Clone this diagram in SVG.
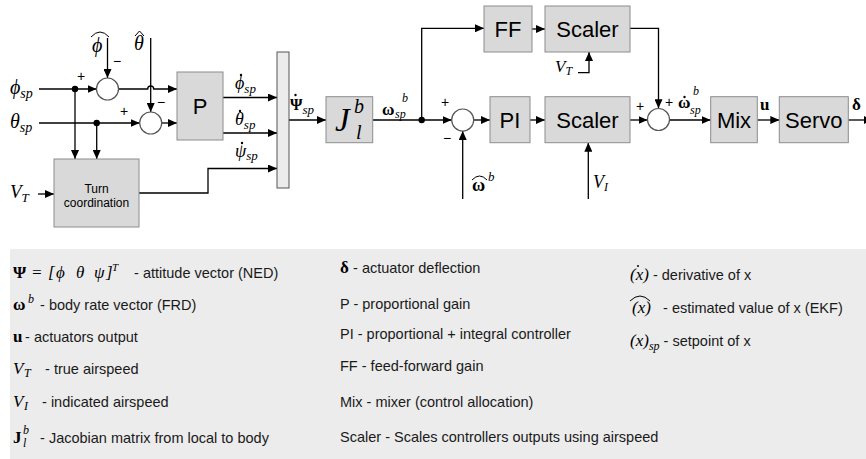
<svg xmlns="http://www.w3.org/2000/svg" width="866" height="459" viewBox="0 0 866 459">
<defs>
<marker id="ah" markerUnits="userSpaceOnUse" markerWidth="9" markerHeight="8" refX="9" refY="4" orient="auto">
<path d="M0,0 L9,4 L0,8 z" fill="#000"/>
</marker>
<style>
.blk{fill:#d9d9d9;stroke:#8c8c8c;stroke-width:1}
.mux{fill:#ececec;stroke:#555;stroke-width:1}
.sum{fill:#fff;stroke:#555;stroke-width:1.2}
.ln{fill:none;stroke:#000;stroke-width:1.3}
.arr{marker-end:url(#ah)}
.dot{fill:#000}
.hat{fill:none;stroke:#000;stroke-width:1}
.bl{font-family:"Liberation Sans",Arial,sans-serif;font-size:22px;text-anchor:middle;fill:#000}
.sm{font-family:"Liberation Sans",Arial,sans-serif;font-size:12px;text-anchor:middle;fill:#000}
.sg{font-family:"Liberation Sans",Arial,sans-serif;font-size:14px;text-anchor:middle;fill:#000}
.mi{font-family:"Liberation Serif","Times New Roman",serif;font-style:italic;fill:#000}
.mb{font-family:"Liberation Serif","Times New Roman",serif;font-weight:bold;fill:#000}
.leg{font-family:"Liberation Sans",Arial,sans-serif;font-size:14.5px;fill:#1a1a1a}
</style>
</defs>

<rect x="10" y="249" width="870" height="220" fill="#ececec"/>

<g id="connectors">
<path class="ln arr" d="M39,89 H96.5"/>
<path class="ln arr" d="M107.5,38 V78"/>
<path class="ln arr" d="M118.5,89 H147.7 a3,3 0 0 1 6,0 H177"/>
<path class="ln arr" d="M150.7,38 V112"/>
<path class="ln arr" d="M39,123 H139.7"/>
<path class="ln arr" d="M162,123 H177"/>
<path class="ln arr" d="M75,89 V159"/>
<path class="ln arr" d="M96.7,123 V159"/>
<path class="ln arr" d="M38,194 H54"/>
<path class="ln arr" d="M223,97.5 H277"/>
<path class="ln arr" d="M223,133 H277"/>
<path class="ln arr" d="M139,193 H208 V168.5 H277"/>
<path class="ln arr" d="M289,120 H326"/>
<path class="ln arr" d="M373,120 H451.7"/>
<path class="ln arr" d="M421.7,120 V28.3 H484"/>
<path class="ln arr" d="M532,29 H545"/>
<path class="ln arr" d="M462.7,199 V131"/>
<path class="ln arr" d="M473.7,120 H490"/>
<path class="ln arr" d="M530,120 H545"/>
<path class="ln arr" d="M588.3,199 V142.7"/>
<path class="ln arr" d="M578,72.7 H589 V52"/>
<path class="ln arr" d="M630,28.3 H658.5 V108.3"/>
<path class="ln arr" d="M630,120 H647.5"/>
<path class="ln arr" d="M669.5,120 H710.7"/>
<path class="ln arr" d="M757.3,120 H779.3"/>
<path class="ln arr" d="M848.3,120 H873"/>
<circle class="dot" cx="75" cy="89" r="3.2"/>
<circle class="dot" cx="96.7" cy="123" r="3.2"/>
<circle class="dot" cx="421.7" cy="120" r="3.2"/>
</g>

<g id="sum1"><circle class="sum" cx="107.5" cy="89" r="11"/></g>
<g id="sum2"><circle class="sum" cx="150.7" cy="123" r="11"/></g>
<g id="P"><rect class="blk" x="177" y="72" width="46" height="68"/><text class="bl" x="200" y="114">P</text></g>
<g id="turncoord"><rect class="blk" x="54" y="159" width="85" height="68"/><text class="sm" x="96.5" y="193">Turn</text><text class="sm" x="96.5" y="207">coordination</text></g>
<g id="mux"><rect class="mux" x="277" y="52" width="12" height="136"/></g>
<g id="J"><rect class="blk" x="326" y="96.7" width="46.7" height="46"/>
<text class="mi" x="335" y="131" font-size="33">J</text><text class="mi" x="354" y="113" font-size="20">b</text><text class="mi" x="356" y="139" font-size="20">l</text></g>
<g id="FF"><rect class="blk" x="484" y="6" width="48" height="46"/><text class="bl" x="508" y="37">FF</text></g>
<g id="scaler1"><rect class="blk" x="545" y="6" width="85" height="46"/><text class="bl" x="587.5" y="37">Scaler</text></g>
<g id="sum3"><circle class="sum" cx="462.7" cy="120" r="11"/></g>
<g id="PI"><rect class="blk" x="490" y="96.7" width="40" height="46"/><text class="bl" x="510" y="128">PI</text></g>
<g id="scaler2"><rect class="blk" x="545" y="96.7" width="85" height="46"/><text class="bl" x="587.5" y="128">Scaler</text></g>
<g id="sum4"><circle class="sum" cx="658.5" cy="119.5" r="11"/></g>
<g id="mix"><rect class="blk" x="710.7" y="96.7" width="46.6" height="46"/><text class="bl" x="734" y="128">Mix</text></g>
<g id="servo"><rect class="blk" x="779.3" y="96.7" width="69" height="46"/><text class="bl" x="813.8" y="128">Servo</text></g>

<g id="signs">
<text class="sg" x="81" y="81">+</text>
<text class="sg" x="117" y="66">−</text>
<text class="sg" x="124" y="116">+</text>
<text class="sg" x="161" y="107">−</text>
<text class="sg" x="445" y="107">+</text>
<text class="sg" x="447" y="143">−</text>
<text class="sg" x="640" y="111">+</text>
<text class="sg" x="669" y="107">+</text>
</g>

<g id="labels">
<text class="mi" x="10" y="94" font-size="20">ϕ<tspan font-size="14" dy="4">sp</tspan></text>
<text class="mi" x="10" y="128" font-size="20">θ<tspan font-size="14" dy="4">sp</tspan></text>
<text class="mi" x="10" y="198" font-size="19">V<tspan font-size="13" dy="4">T</tspan></text>
<text class="mi" x="92" y="52" font-size="20">ϕ</text>
<path class="hat" d="M91,37 Q100,27 109,37"/>
<text class="mi" x="134" y="50" font-size="20">θ</text>
<path class="hat" d="M135,36 L139.5,31 L144,36"/>
<text class="mi" x="235" y="89" font-size="18">ϕ<tspan font-size="13" dy="4">sp</tspan></text>
<circle class="dot" cx="241" cy="75" r="1.2"/>
<text class="mi" x="235" y="125" font-size="18">θ<tspan font-size="13" dy="4">sp</tspan></text>
<circle class="dot" cx="240" cy="111" r="1.2"/>
<text class="mi" x="235" y="157" font-size="18">ψ<tspan font-size="13" dy="3">sp</tspan></text>
<circle class="dot" cx="242" cy="143" r="1.2"/>
<text class="mb" x="290" y="110" font-size="16">Ψ<tspan class="mi" font-weight="normal" font-size="13" dy="4">sp</tspan></text>
<circle class="dot" cx="295.5" cy="95" r="1.2"/>
<text class="mb" x="382" y="115" font-size="17">ω</text>
<text class="mi" x="395" y="118" font-size="12">sp</text>
<text class="mi" x="402" y="102" font-size="12">b</text>
<text class="mb" x="472" y="191" font-size="18">ω</text>
<path class="hat" d="M472,180 Q479.5,172 487,180"/>
<text class="mi" x="488" y="181" font-size="13">b</text>
<text class="mi" x="555" y="72" font-size="17">V<tspan font-size="12" dy="3">T</tspan></text>
<text class="mi" x="593" y="188" font-size="18">V<tspan font-size="12" dy="3">I</tspan></text>
<text class="mb" x="678" y="108" font-size="17">ω</text>
<circle class="dot" cx="684.5" cy="97" r="1.2"/>
<text class="mi" x="690" y="114" font-size="12">sp</text>
<text class="mi" x="693" y="95" font-size="12">b</text>
<text class="mb" x="760" y="110" font-size="17">u</text>
<text class="mb" x="852" y="110" font-size="17">δ</text>
</g>

<g id="legend">
<text class="leg" y="278"><tspan class="mb" x="13" font-size="17">Ψ</tspan><tspan class="mi" font-style="normal" x="31" font-size="17">=</tspan><tspan class="mi" font-style="normal" x="48" font-size="17">[</tspan><tspan class="mi" x="56" font-size="17">ϕ</tspan><tspan class="mi" x="76" font-size="17">θ</tspan><tspan class="mi" x="94" font-size="17">ψ</tspan><tspan class="mi" font-style="normal" x="106" font-size="17">]</tspan><tspan class="mi" x="112" dy="-7" font-size="11">T</tspan><tspan x="130" dy="7"> - attitude vector (NED)</tspan></text>
<text class="leg" y="310"><tspan class="mb" x="13" font-size="17">ω</tspan><tspan class="mi" x="28" dy="-7" font-size="12">b</tspan><tspan x="36" dy="7"> - body rate vector (FRD)</tspan></text>
<text class="leg" y="342"><tspan class="mb" x="13" font-size="17">u</tspan><tspan x="21"> - actuators output</tspan></text>
<text class="leg" y="374"><tspan class="mi" x="13" font-size="17">V</tspan><tspan class="mi" x="24" dy="3" font-size="12">T</tspan><tspan x="41" dy="-3"> - true airspeed</tspan></text>
<text class="leg" y="407"><tspan class="mi" x="13" font-size="17">V</tspan><tspan class="mi" x="24" dy="3" font-size="12">I</tspan><tspan x="38" dy="-3"> - indicated airspeed</tspan></text>
<text class="leg" y="443"><tspan class="mb" x="13" font-size="17">J</tspan><tspan class="mi" x="23" dy="4" font-size="12">l</tspan><tspan class="mi" x="23" dy="-13" font-size="12">b</tspan><tspan x="36" dy="9"> - Jacobian matrix from local to body</tspan></text>

<text class="leg" y="273"><tspan class="mb" x="340" font-size="17">δ</tspan><tspan x="349"> - actuator deflection</tspan></text>
<text class="leg" x="340" y="309">P - proportional gain</text>
<text class="leg" x="340" y="339">PI - proportional + integral controller</text>
<text class="leg" x="340" y="371">FF - feed-forward gain</text>
<text class="leg" x="340" y="407">Mix - mixer (control allocation)</text>
<text class="leg" x="340" y="442">Scaler - Scales controllers outputs using airspeed</text>

<text class="leg" y="280"><tspan class="mi" font-style="normal" x="630" font-size="17">(</tspan><tspan class="mi" font-size="17">x</tspan><tspan class="mi" font-style="normal" font-size="17">)</tspan><tspan> - derivative of x</tspan></text>
<circle class="dot" cx="638" cy="266" r="1"/>
<text class="leg" y="313"><tspan class="mi" font-style="normal" x="632" font-size="17">(</tspan><tspan class="mi" font-size="17">x</tspan><tspan class="mi" font-style="normal" font-size="17">)</tspan><tspan x="659"> - estimated value of x (EKF)</tspan></text>
<path class="hat" d="M630,301 Q640,291 650,301"/>
<text class="leg" y="346"><tspan class="mi" font-style="normal" x="630" font-size="17">(</tspan><tspan class="mi" font-size="17">x</tspan><tspan class="mi" font-style="normal" font-size="17">)</tspan><tspan class="mi" font-size="12" dy="4">sp</tspan><tspan dy="-4"> - setpoint of x</tspan></text>
</g>
</svg>
